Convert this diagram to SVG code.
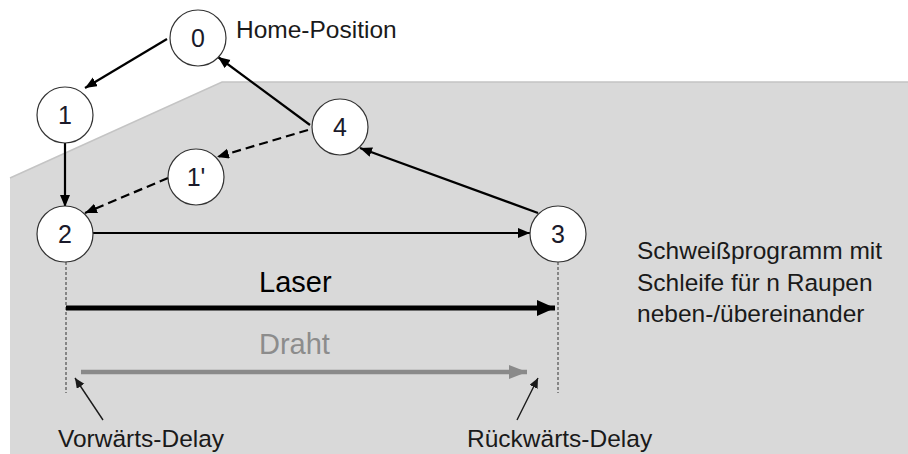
<svg xmlns="http://www.w3.org/2000/svg" width="908" height="454" viewBox="0 0 908 454">
  <style>
    .node circle { fill: #ffffff; stroke: #333333; stroke-width: 1.2; }
    .node text { font-family: "Liberation Sans", Arial, sans-serif; font-size: 25px; fill: #1a1a2a; text-anchor: middle; }
    .lbl { font-family: "Liberation Sans", Arial, sans-serif; font-size: 24.5px; fill: #1a1a1a; }
    .edge { stroke: #000000; stroke-width: 2.2; fill: none; marker-end: url(#ah); }
    .dash { stroke-dasharray: 9 5; }
    .guide { stroke: #333333; stroke-width: 1; stroke-dasharray: 3 2; fill: none; }
    .thin { stroke: #1a1a1a; stroke-width: 1.4; fill: none; marker-end: url(#ahs); }
  </style>
  <defs>
    <marker id="ah" markerUnits="userSpaceOnUse" markerWidth="13" markerHeight="11" refX="12" refY="5" orient="auto">
      <path d="M0,0 L12,5 L0,10 z" fill="#000000"/>
    </marker>
    <marker id="ahs" markerUnits="userSpaceOnUse" markerWidth="11" markerHeight="10" refX="10" refY="4.5" orient="auto">
      <path d="M0,0 L10,4.5 L0,9 z" fill="#1a1a1a"/>
    </marker>
    <marker id="ahL" markerUnits="userSpaceOnUse" markerWidth="20" markerHeight="18" refX="18" refY="8" orient="auto">
      <path d="M0,0 L18,8 L0,16 z" fill="#000000"/>
    </marker>
    <marker id="ahD" markerUnits="userSpaceOnUse" markerWidth="20" markerHeight="16" refX="18" refY="7" orient="auto">
      <path d="M0,0 L18,7 L0,14 z" fill="#8a8a8a"/>
    </marker>
  </defs>

  <rect x="0" y="0" width="908" height="454" fill="#ffffff"/>
  <polygon id="area" points="10,178 222,82 908,82 908,454 10,454" fill="#d9d9d9"/>
  <polyline points="10,178 222,82 908,82" fill="none" stroke="#c4c4c4" stroke-width="1.5"/>

  <g id="connectors">
    <line class="edge" x1="167" y1="39" x2="85" y2="88"/>
    <line class="edge" x1="65" y1="143" x2="65" y2="207"/>
    <line class="edge" x1="93" y1="233" x2="530" y2="233"/>
    <line class="edge" x1="538" y1="213" x2="360" y2="148"/>
    <line class="edge" x1="310" y1="125" x2="218" y2="57"/>
    <line class="edge dash" x1="308" y1="130" x2="217" y2="157"/>
    <line class="edge dash" x1="168" y1="178" x2="85" y2="213"/>
    <line class="guide" x1="66" y1="262" x2="66" y2="393"/>
    <line class="guide" x1="558" y1="262" x2="558" y2="393"/>
    <line x1="66" y1="308" x2="555" y2="308" stroke="#000000" stroke-width="5" marker-end="url(#ahL)"/>
    <line x1="81" y1="372" x2="527" y2="372" stroke="#8a8a8a" stroke-width="4.5" marker-end="url(#ahD)"/>
    <line class="thin" x1="103" y1="420" x2="75" y2="378"/>
    <line class="thin" x1="517" y1="420" x2="538" y2="378"/>
  </g>

  <g id="n0" class="node"><circle cx="198" cy="38" r="28"/><text x="198" y="47">0</text></g>
  <g id="n1" class="node"><circle cx="65" cy="115" r="28"/><text x="65" y="124">1</text></g>
  <g id="n1p" class="node"><circle cx="196" cy="177" r="28"/><text x="196" y="186">1'</text></g>
  <g id="n4" class="node"><circle cx="340" cy="127" r="28"/><text x="340" y="136">4</text></g>
  <g id="n2" class="node"><circle cx="65" cy="234" r="28"/><text x="65" y="243">2</text></g>
  <g id="n3" class="node"><circle cx="558" cy="234" r="28"/><text x="558" y="243">3</text></g>

  <g id="labels">
    <text class="lbl" x="236" y="38">Home-Position</text>
    <text class="lbl" x="259" y="292" style="font-size:29px; fill:#000000">Laser</text>
    <text class="lbl" x="259" y="354" style="font-size:29px; fill:#8c8c8c">Draht</text>
    <text class="lbl" x="637" y="259">Schweißprogramm mit</text>
    <text class="lbl" x="637" y="291">Schleife für n Raupen</text>
    <text class="lbl" x="637" y="322">neben-/übereinander</text>
    <text class="lbl" x="58" y="447">Vorwärts-Delay</text>
    <text class="lbl" x="467" y="447">Rückwärts-Delay</text>
  </g>
</svg>
